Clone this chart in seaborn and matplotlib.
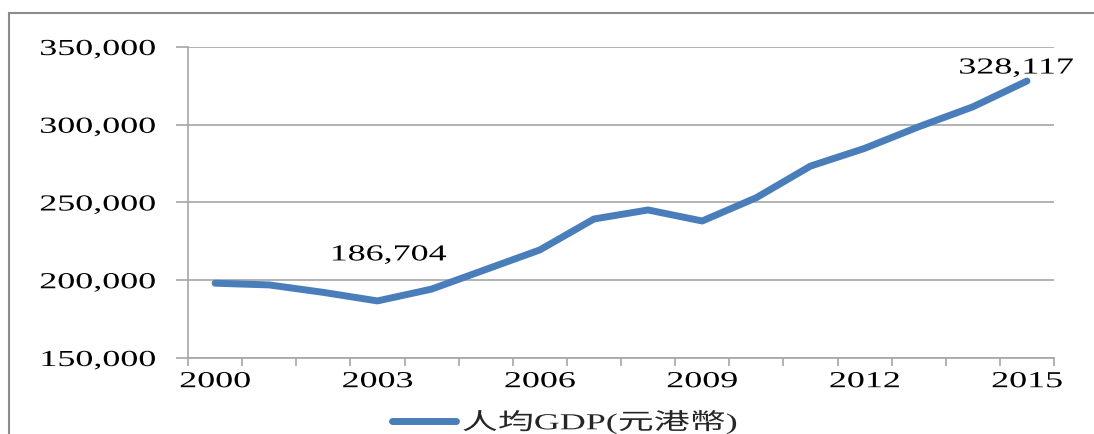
import numpy as np
import pandas as pd
import matplotlib
matplotlib.use("Agg")
import matplotlib.pyplot as plt
import matplotlib.patheffects as pe
from matplotlib.transforms import Affine2D
from matplotlib.patches import Rectangle
from matplotlib.ticker import FixedLocator, FuncFormatter, NullFormatter
import seaborn as sns

# Hong Kong GDP per capita (HK$), 2000-2015
years = [2000, 2001, 2002, 2003, 2004, 2005, 2006, 2007,
         2008, 2009, 2010, 2011, 2012, 2013, 2014, 2015]
gdp_per_capita = [198100, 197000, 192200, 186704, 194300, 206900, 219500, 239400,
                  245200, 238100, 253100, 273400, 284800, 298700, 311500, 328117]
year_labels = [2000, 2003, 2006, 2009, 2012, 2015]
y_ticks = [150000, 200000, 250000, 300000, 350000]
series_name = "人均GDP(元港幣)"
labelled_years = [2003, 2015]

sns.set_theme(style="white")
plt.rcParams["font.family"] = ["Liberation Serif", "Noto Sans CJK TC"]

BLUE = "#4a7ebb"
GREY = "#a6a6a6"
FONT = 16.5
STRETCH = 1.57


class HStretch(pe.AbstractPathEffect):
    """Widen glyphs horizontally around a fixed left/centre/right edge."""

    def __init__(self, sx, anchor="left"):
        super().__init__()
        self.sx = sx
        self.anchor = anchor

    def draw_path(self, renderer, gc, tpath, affine, rgbFace=None):
        ext = tpath.get_extents()
        if self.anchor == "right":
            px = ext.x1
        elif self.anchor == "center":
            px = 0.5 * (ext.x0 + ext.x1)
        else:
            px = ext.x0
        t = Affine2D().translate(-px, 0).scale(self.sx, 1).translate(px, 0) + affine
        renderer.draw_path(gc, tpath, t, rgbFace)


W, H = 1094, 434
fig = plt.figure(figsize=(W / 100, H / 100), dpi=100)
fig.patch.set_facecolor("white")
ax = fig.add_axes([188 / W, 1 - 358 / H, (1054 - 188) / W, (358 - 47) / H])

df = pd.DataFrame({"year": years, "gdp": gdp_per_capita})
sns.lineplot(data=df, x="year", y="gdp", ax=ax, color=BLUE, linewidth=5,
             label=series_name, solid_capstyle="round", solid_joinstyle="round",
             clip_on=False)

# axes limits and ticks
ax.set_xlim(years[0] - 0.5, years[-1] + 0.5)
ax.set_ylim(y_ticks[0], y_ticks[-1])
ax.xaxis.set_major_locator(FixedLocator(np.arange(years[0] - 0.5, years[-1] + 1, 1.0)))
ax.xaxis.set_major_formatter(NullFormatter())
ax.xaxis.set_minor_locator(FixedLocator(year_labels))
ax.xaxis.set_minor_formatter(FuncFormatter(lambda v, p: f"{int(round(v))}"))
ax.yaxis.set_major_locator(FixedLocator(y_ticks))
ax.yaxis.set_major_formatter(FuncFormatter(lambda v, p: f"{int(v):,}"))

ax.tick_params(axis="x", which="major", direction="out", length=6, width=1.2,
               color=GREY, bottom=True)
ax.tick_params(axis="x", which="minor", length=0, pad=9.5, labelsize=FONT,
               labelcolor="black", bottom=True)
ax.tick_params(axis="y", which="major", direction="out", length=8.6, width=1.2,
               color=GREY, pad=15, labelsize=FONT, labelcolor="black", left=True)

ax.set_xlabel("")
ax.set_ylabel("")
ax.grid(False)
ax.yaxis.grid(True, color=GREY, linewidth=1.2)
for side in ["top", "right"]:
    ax.spines[side].set_visible(False)
for side in ["left", "bottom"]:
    ax.spines[side].set_color(GREY)
    ax.spines[side].set_linewidth(1.2)

# value labels on the trough and the last point
for yr in labelled_years:
    val = gdp_per_capita[years.index(yr)]
    offset = (11, 46) if yr == 2003 else (-11, 13)
    ax.annotate(f"{val:,}", xy=(yr, val), xytext=offset, textcoords="offset pixels",
                ha="center", va="center", fontsize=FONT, color="black",
                path_effects=[HStretch(STRETCH, "center")])

leg = ax.legend(loc="center left", bbox_to_anchor=(392 / W, 1 - 422 / H),
                bbox_transform=fig.transFigure, frameon=False,
                handlelength=64 / (FONT * 100 / 72), handletextpad=0.28,
                borderpad=0, borderaxespad=0, fontsize=FONT)
for t in leg.get_texts():
    t.set_path_effects([HStretch(STRETCH, "left")])

for lab in ax.get_yticklabels():
    lab.set_path_effects([HStretch(STRETCH, "right")])
for lab in ax.get_xticklabels(minor=True):
    lab.set_path_effects([HStretch(STRETCH, "center")])

# outer frame of the chart area
fig.add_artist(Rectangle((9 / W, -0.05), 1.2, 1 - 13 / H + 0.05,
                         transform=fig.transFigure, fill=False,
                         edgecolor="#8c8c8c", linewidth=1.5))

fig.savefig("out.png", dpi=100, facecolor="white")
